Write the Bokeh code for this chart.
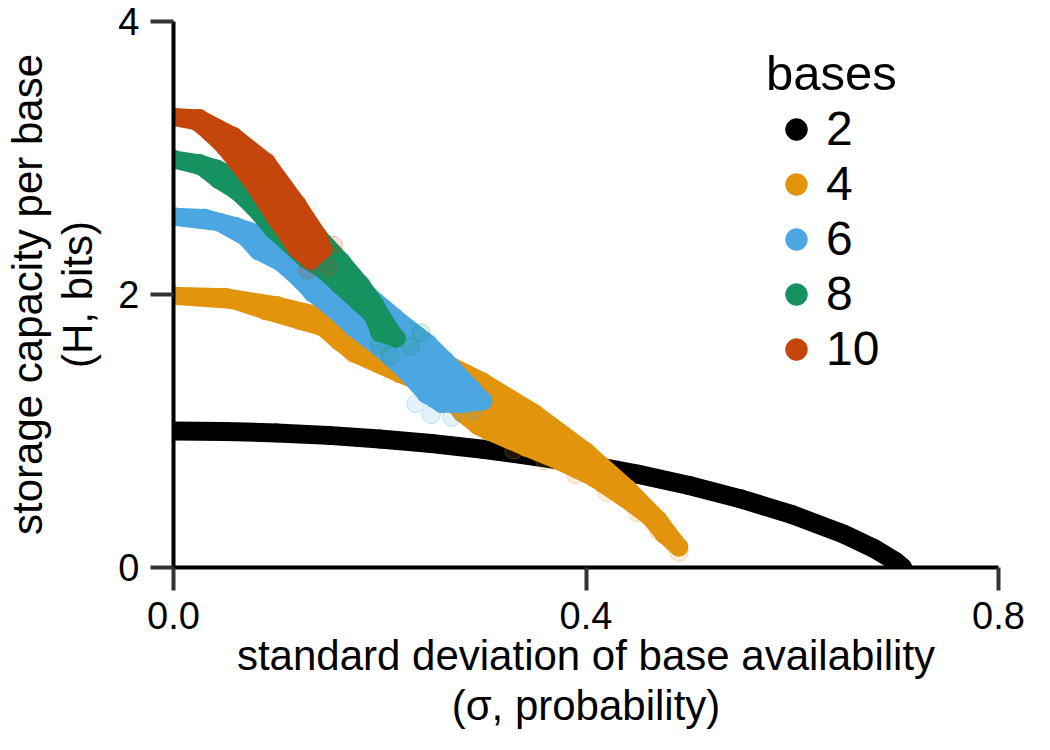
from bokeh.plotting import figure
from bokeh.models import Range1d, FixedTicker, Legend, LegendItem, NumeralTickFormatter
from bokeh.embed import file_html
from bokeh.resources import INLINE

# ---------------- data ----------------
x_ticks = [0.0, 0.4, 0.8]
y_ticks = [0, 2, 4]

legend_labels = ["2", "4", "6", "8", "10"]
colors = ["#000000", "#E1940C", "#4BA6E1", "#169160", "#C5460A"]

# 2 bases: a single curve
sigma_2 = [0.0, 0.05, 0.1, 0.15, 0.2, 0.25, 0.3, 0.35, 0.4, 0.45, 0.5, 0.55, 0.6, 0.65, 0.68, 0.7, 0.707]
h_2 = [1.0, 0.996, 0.986, 0.968, 0.941, 0.908, 0.866, 0.815, 0.755, 0.684, 0.601, 0.503, 0.387, 0.244, 0.137, 0.045, 0.0]

# 4 bases: upper and lower edge of the point cloud
sigma_4_up = [0.0, 0.05, 0.1, 0.15, 0.2, 0.25, 0.3, 0.35, 0.4, 0.44, 0.47, 0.49]
h_4_up = [1.99, 1.98, 1.92, 1.83, 1.71, 1.55, 1.36, 1.13, 0.85, 0.58, 0.35, 0.15]
sigma_4_low = [0.0, 0.058, 0.09, 0.122, 0.145, 0.16, 0.175, 0.219, 0.252, 0.265, 0.28, 0.295, 0.305,
               0.342, 0.374, 0.407, 0.437, 0.462, 0.476, 0.49]
h_4_low = [1.99, 1.96, 1.88, 1.81, 1.76, 1.66, 1.57, 1.42, 1.32, 1.26, 1.13, 1.04, 1.00,
           0.88, 0.78, 0.66, 0.51, 0.37, 0.24, 0.15]

# 6 bases
sigma_6_up = [0.0, 0.03, 0.06, 0.1, 0.15, 0.19, 0.215, 0.247, 0.263, 0.289, 0.30]
h_6_up = [2.57, 2.56, 2.50, 2.40, 2.21, 1.99, 1.83, 1.64, 1.52, 1.31, 1.22]
sigma_6_low = [0.0, 0.044, 0.07, 0.082, 0.105, 0.124, 0.135, 0.154, 0.174, 0.20, 0.225, 0.245, 0.26, 0.28, 0.30]
h_6_low = [2.57, 2.53, 2.42, 2.32, 2.23, 2.10, 2.01, 1.90, 1.76, 1.61, 1.44, 1.27, 1.20, 1.20, 1.22]

# 8 bases
sigma_8_up = [0.0, 0.025, 0.042, 0.07, 0.1, 0.136, 0.163, 0.182, 0.195, 0.21, 0.216]
h_8_up = [2.99, 2.96, 2.92, 2.82, 2.66, 2.46, 2.24, 2.07, 1.93, 1.74, 1.68]
sigma_8_low = [0.0, 0.027, 0.044, 0.061, 0.078, 0.096, 0.128, 0.145, 0.161, 0.18, 0.193, 0.20, 0.216]
h_8_low = [2.99, 2.94, 2.84, 2.76, 2.64, 2.48, 2.26, 2.18, 2.07, 1.94, 1.85, 1.72, 1.68]

# 10 bases
sigma_10_up = [0.0, 0.025, 0.058, 0.09, 0.12, 0.14, 0.145]
h_10_up = [3.30, 3.29, 3.16, 2.97, 2.66, 2.43, 2.33]
sigma_10_low = [0.0, 0.022, 0.035, 0.05, 0.075, 0.10, 0.12, 0.133, 0.145]
h_10_low = [3.30, 3.27, 3.19, 3.08, 2.84, 2.55, 2.33, 2.25, 2.33]

# sparse, faint points at the fringes of the clouds
fringe_4_sigma = [0.33, 0.36, 0.39, 0.42, 0.45, 0.47, 0.485, 0.49]
fringe_4_h = [0.86, 0.78, 0.68, 0.55, 0.40, 0.27, 0.17, 0.11]
fringe_6_sigma = [0.235, 0.25, 0.27, 0.29]
fringe_6_h = [1.20, 1.12, 1.10, 1.15]
fringe_8_sigma = [0.2, 0.21, 0.23, 0.24]
fringe_8_h = [1.63, 1.55, 1.62, 1.72]
fringe_10_sigma = [0.13, 0.15, 0.155]
fringe_10_h = [2.18, 2.2, 2.36]

# ---------------- figure ----------------
FONT = "Liberation Sans"
p = figure(frame_width=825, frame_height=546,
           min_border_left=173, min_border_right=36, min_border_top=21, min_border_bottom=172,
           x_range=Range1d(0, 0.8), y_range=Range1d(0, 4),
           output_backend="svg", toolbar_location=None,
           background_fill_color="white", border_fill_color="white")
p.outline_line_color = None
p.xgrid.grid_line_color = None
p.ygrid.grid_line_color = None

marker_d = 18

renderers = []
# 2 bases
p.line(sigma_2, h_2, line_color=colors[0], line_width=marker_d + 1, line_cap="round", line_join="round")
renderers.append(p.scatter(sigma_2, h_2, size=marker_d, marker="circle", color=colors[0]))

bands = [
    (sigma_4_up, h_4_up, sigma_4_low, h_4_low, fringe_4_sigma, fringe_4_h),
    (sigma_6_up, h_6_up, sigma_6_low, h_6_low, fringe_6_sigma, fringe_6_h),
    (sigma_8_up, h_8_up, sigma_8_low, h_8_low, fringe_8_sigma, fringe_8_h),
    (sigma_10_up, h_10_up, sigma_10_low, h_10_low, fringe_10_sigma, fringe_10_h),
]
for (su, hu, sl, hl, fs, fh), c in zip(bands, colors[1:]):
    p.scatter(fs, fh, size=marker_d, marker="circle", fill_color=c, fill_alpha=0.15,
              line_color=c, line_alpha=0.3)
    xs = list(su) + list(reversed(sl))
    ys = list(hu) + list(reversed(hl))
    p.patch(xs, ys, fill_color=c, line_color=c, line_width=marker_d, line_join="round")
    renderers.append(p.scatter(su + sl, hu + hl, size=marker_d, marker="circle", color=c))

# ---------------- axes ----------------
for ax in (p.xaxis[0], p.yaxis[0]):
    ax.axis_line_width = 4
    ax.axis_line_color = "black"
    ax.major_tick_out = 23
    ax.major_tick_in = 0
    ax.major_tick_line_width = 4
    ax.major_tick_line_color = "#333333"
    ax.minor_tick_line_color = None
    ax.major_label_text_font = FONT
    ax.major_label_text_font_size = "38px"
    ax.major_label_text_color = "black"
    ax.major_label_standoff = 11
    ax.axis_label_text_font = FONT
    ax.axis_label_text_font_size = "42px"
    ax.axis_label_text_font_style = "normal"
    ax.axis_label_text_color = "black"
    ax.axis_label_text_line_height = 1.08

p.xaxis.ticker = FixedTicker(ticks=x_ticks)
p.yaxis.ticker = FixedTicker(ticks=y_ticks)
p.xaxis.formatter = NumeralTickFormatter(format="0.0")
p.yaxis.formatter = NumeralTickFormatter(format="0")
p.xaxis.axis_label = "standard deviation of base availability\n(\u03c3, probability)"
p.yaxis.axis_label = "storage capacity per base\n(H, bits)"
p.xaxis.axis_label_standoff = 0
p.yaxis.axis_label_standoff = 14

# ---------------- legend ----------------
legend = Legend(
    items=[LegendItem(label=lab, renderers=[r]) for lab, r in zip(legend_labels, renderers)],
    location=(593, 191), title="bases",
    title_text_font=FONT, title_text_font_size="49px", title_text_font_style="normal",
    title_text_color="black",
    label_text_font=FONT, label_text_font_size="48px", label_text_color="black",
    glyph_width=60, glyph_height=54, spacing=0, label_standoff=0,
    padding=0, margin=0, title_standoff=0,
    border_line_color=None, background_fill_alpha=0,
)
p.add_layout(legend)

open("out.html", "w").write(file_html(p, INLINE))
